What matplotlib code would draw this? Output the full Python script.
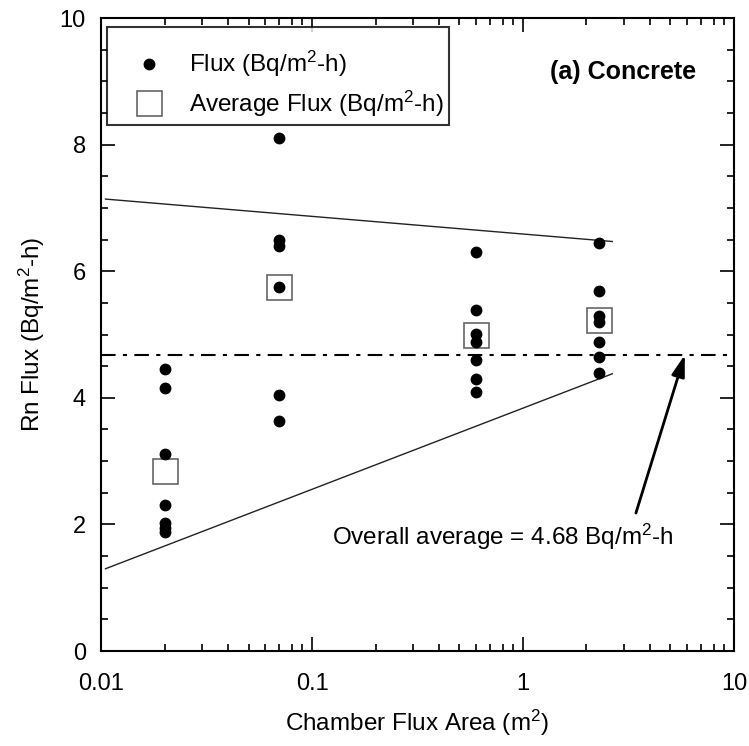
import matplotlib
matplotlib.use("Agg")
import matplotlib.pyplot as plt
from matplotlib.lines import Line2D
from matplotlib.ticker import LogLocator, MultipleLocator, NullFormatter

plt.rcParams['font.family'] = ['Liberation Sans', 'DejaVu Sans']
plt.rcParams['mathtext.fontset'] = 'custom'
plt.rcParams['mathtext.rm'] = 'Liberation Sans'
plt.rcParams['mathtext.it'] = 'Liberation Sans:italic'
plt.rcParams['mathtext.bf'] = 'Liberation Sans:bold'

# chamber areas (m2) and measured fluxes
area_pts = [0.02] * 7 + [0.07] * 6 + [0.6] * 7 + [2.3] * 7
flux_pts = [4.45, 4.15, 3.11, 2.30, 2.03, 1.95, 1.88,
            8.10, 6.50, 6.40, 5.75, 4.04, 3.64,
            6.30, 5.39, 5.01, 4.89, 4.59, 4.29, 4.09,
            6.45, 5.69, 5.30, 5.20, 4.89, 4.64, 4.40]

# averages per chamber
area_avg = [0.02, 0.07, 0.6, 2.3]
flux_avg = [2.84, 5.75, 4.99, 5.23]

overall_avg = 4.68

# bounding lines
bound_x = [0.0105, 2.65]
upper_y = [7.14, 6.47]
lower_y = [1.30, 4.38]

FS = 17.5

fig = plt.figure(figsize=(7.49, 7.46), dpi=100)
ax = fig.add_axes([0.1349, 0.1273, 0.845, 0.8485])

ax.plot(bound_x, upper_y, color='#222222', lw=1.0)
ax.plot(bound_x, lower_y, color='#222222', lw=1.0)
ax.axhline(overall_avg, color='black', lw=1.5, dashes=(7, 3.5, 2, 3.5))

ax.plot(area_avg, flux_avg, ls='none', marker='s', ms=18, mfc='white',
        mec='#666666', mew=1.2, zorder=3)
ax.plot(area_pts, flux_pts, ls='none', marker='o', ms=7.5, color='black', zorder=4)

ax.set_xscale('log')
ax.set_xlim(0.01, 10)
ax.set_ylim(0, 10)
ax.set_xticks([0.01, 0.1, 1, 10])
ax.set_xticklabels(['0.01', '0.1', '1', '10'])
ax.xaxis.set_minor_locator(LogLocator(base=10, subs=range(2, 10)))
ax.xaxis.set_minor_formatter(NullFormatter())
ax.yaxis.set_major_locator(MultipleLocator(2))
ax.yaxis.set_minor_locator(MultipleLocator(0.5))

ax.tick_params(which='both', direction='in', top=True, right=True,
               labelsize=17, width=1.2)
ax.tick_params(axis='x', which='major', pad=16)
ax.tick_params(axis='y', which='major', pad=11)
ax.tick_params(which='major', length=10)
ax.tick_params(which='minor', length=5)
for s in ax.spines.values():
    s.set_linewidth(1.5)

ax.set_xlabel('Chamber Flux Area (m$^2$)', fontsize=FS, labelpad=9)
ax.set_ylabel('Rn Flux (Bq/m$^2$-h)', fontsize=FS, labelpad=9)

ax.text(2.99, 9.15, '(a) Concrete', fontsize=18, fontweight='bold',
        ha='center', va='center')

ax.annotate('', xy=(5.85, overall_avg), xytext=(3.43, 2.18),
            arrowprops=dict(arrowstyle='-|>,head_length=1.3,head_width=0.4',
                            color='black', lw=2, shrinkA=0, shrinkB=0))
ax.text(0.125, 1.80, 'Overall average = 4.68 Bq/m$^2$-h', fontsize=FS,
        ha='left', va='center')

handles = [
    Line2D([], [], ls='none', marker='o', ms=7.5, color='black'),
    Line2D([], [], ls='none', marker='s', ms=18, mfc='white', mec='#666666', mew=1.2),
]
# blank title just pads the top of the box like the original
leg = ax.legend(handles, ['Flux (Bq/m$^2$-h)', 'Average Flux (Bq/m$^2$-h)'],
                loc='upper left', bbox_to_anchor=(0.010, 0.986), borderaxespad=0,
                fontsize=FS, frameon=True, fancybox=False, labelspacing=0.38,
                handlelength=2.95, handletextpad=0.14, borderpad=0.25,
                title=' ', title_fontsize=6)
leg.get_frame().set_edgecolor('black')
leg.get_frame().set_linewidth(1.5)

fig.savefig('out.png', dpi=100)
